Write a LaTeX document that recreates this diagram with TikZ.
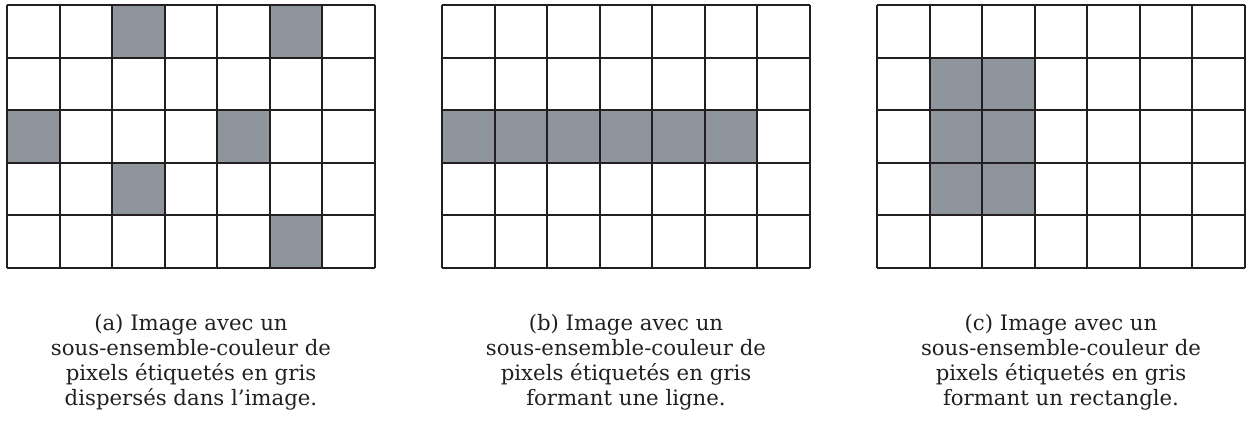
\documentclass[tikz,border=0pt]{standalone}
\usepackage{fontspec}
\setmainfont{DejaVu Serif}
\usepackage{tikz}
\usetikzlibrary{positioning}
\definecolor{pixgray}{RGB}{142,149,156}
\definecolor{traitnoir}{RGB}{35,31,32}

\begin{document}
\begin{tikzpicture}
    \tikzstyle{pix}=[fill=pixgray]
    \tikzstyle{grille}=[line width=1.08pt, draw=traitnoir]
    \tikzstyle{legende}=[align=center, text=traitnoir, font=\fontsize{11.5}{13.5}\selectfont]
    \useasboundingbox (0,0) rectangle (23.797,8.142);
    % (a) pixels disperses
    \begin{scope}[shift={(0.133,3.047)}]
      \foreach \c/\r in {2/0,5/0,0/2,4/2,2/3,5/4}
        \fill[pix] (\c,4-\r) rectangle ++(1,1);
      \draw[grille] (0,0) grid (7,5);
      \node[legende] (capa) at (3.5,-1.791) {(a) Image avec un\\sous-ensemble-couleur de\\pixels étiquetés en gris\\dispersés dans l’image.};
    \end{scope}
    % (b) une ligne
    \begin{scope}[shift={(8.408,3.047)}]
      \foreach \c in {0,...,5}
        \fill[pix] (\c,2) rectangle ++(1,1);
      \draw[grille] (0,0) grid (7,5);
      \node[legende] (capb) at (3.5,-1.791) {(b) Image avec un\\sous-ensemble-couleur de\\pixels étiquetés en gris\\formant une ligne.};
    \end{scope}
    % (c) un rectangle
    \begin{scope}[shift={(16.683,3.047)}]
      \fill[pix] (1,1) rectangle (3,4);
      \draw[grille] (0,0) grid (7,5);
      \node[legende] (capc) at (3.5,-1.791) {(c) Image avec un\\sous-ensemble-couleur de\\pixels étiquetés en gris\\formant un rectangle.};
    \end{scope}
  \end{tikzpicture}
\end{document}
